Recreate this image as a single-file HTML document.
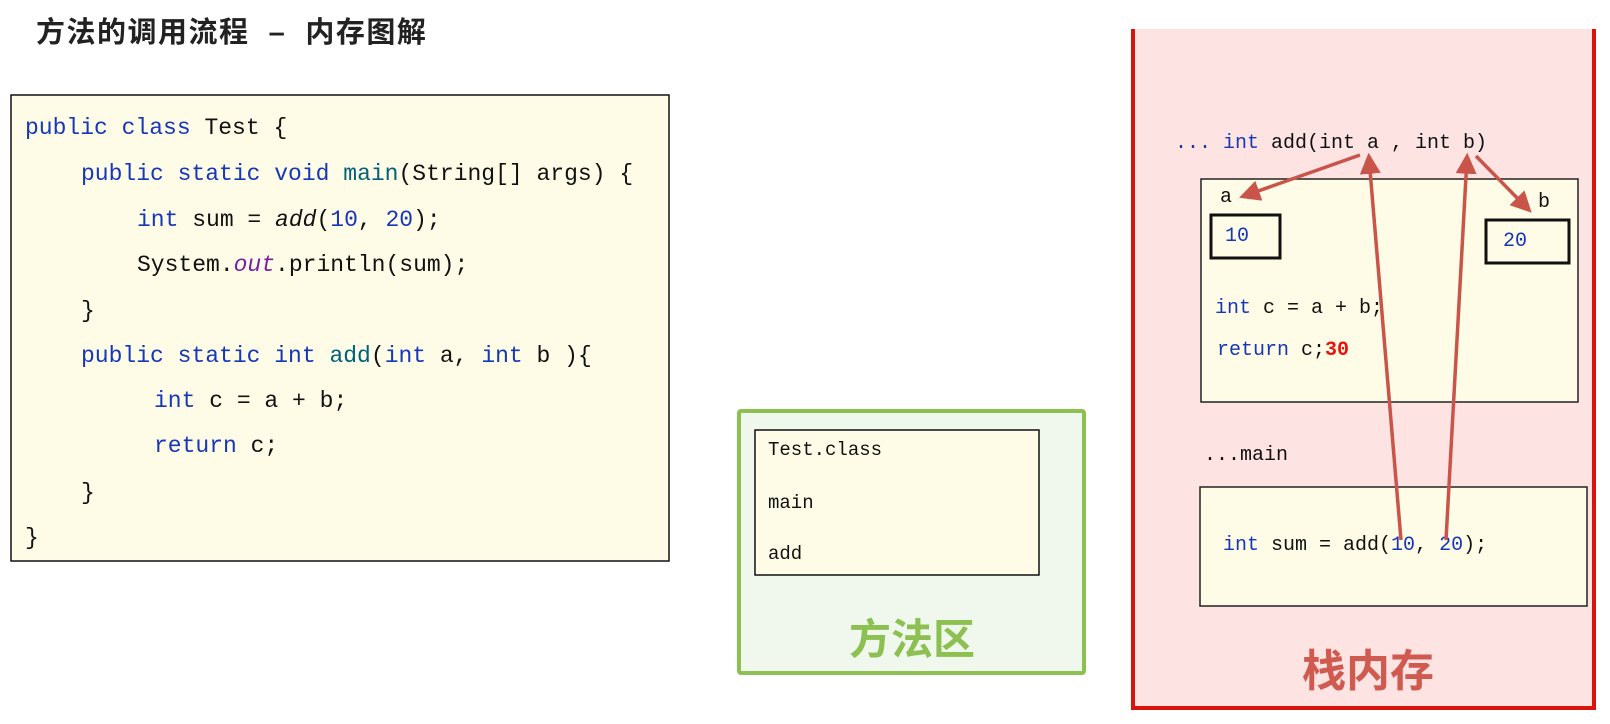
<!DOCTYPE html>
<html><head><meta charset="utf-8"><style>
html,body{margin:0;padding:0;background:#fff;}
svg{display:block;}
.m{font-family:"Liberation Mono",monospace;}
.k{fill:#1637b8;}
.t{fill:#00627a;}
</style></head><body>
<svg width="1610" height="724" viewBox="0 0 1610 724" xmlns="http://www.w3.org/2000/svg">
<text x="36" y="42" font-family="'Liberation Sans','Noto Sans CJK SC',sans-serif" font-weight="bold" font-size="29" letter-spacing="1.5" fill="#222" xml:space="preserve">方法的调用流程  –  内存图解</text>

<rect x="11" y="95" width="658" height="466" fill="#fefce6" stroke="#111" stroke-width="1.5"/>
<g class="m" font-size="23" fill="#111">
<text x="25" y="134"><tspan class="k">public class</tspan> Test {</text>
<text x="81" y="180"><tspan class="k">public static void</tspan> <tspan class="t">main</tspan>(String[] args) {</text>
<text x="137" y="226"><tspan class="k">int</tspan> sum = <tspan font-style="italic">add</tspan>(<tspan class="k">10</tspan>, <tspan class="k">20</tspan>);</text>
<text x="137" y="271">System.<tspan font-style="italic" fill="#7a1fa2">out</tspan>.println(sum);</text>
<text x="81" y="317">}</text>
<text x="81" y="362"><tspan class="k">public static int</tspan> <tspan class="t">add</tspan>(<tspan class="k">int</tspan> a, <tspan class="k">int</tspan> b ){</text>
<text x="154" y="407"><tspan class="k">int</tspan> c = a + b;</text>
<text x="154" y="452"><tspan class="k">return</tspan> c;</text>
<text x="81" y="499">}</text>
<text x="25" y="544">}</text>
</g>

<rect x="739" y="411" width="345" height="262" fill="#f0f7ec" stroke="#8cc152" stroke-width="4" rx="2"/>
<rect x="755" y="430" width="284" height="145" fill="#fefce6" stroke="#111" stroke-width="1.5"/>
<g class="m" font-size="19" fill="#111">
<text x="768" y="455">Test.class</text>
<text x="768" y="508">main</text>
<text x="768" y="559">add</text>
</g>
<text x="912" y="654" text-anchor="middle" font-family="'Liberation Sans','Noto Sans CJK SC',sans-serif" font-weight="bold" font-size="42" fill="#8cc152">方法区</text>

<rect x="1133" y="29" width="461" height="679" fill="#fde4e2"/>
<path d="M1133 29 V708 H1594 V29" fill="none" stroke="#d9140c" stroke-width="4"/>
<rect x="1201" y="179" width="377" height="223" fill="#fefce6" stroke="#222" stroke-width="1.5"/>
<rect x="1200" y="487" width="387" height="119" fill="#fefce6" stroke="#222" stroke-width="1.5"/>
<rect x="1211" y="215" width="69" height="43" fill="none" stroke="#111" stroke-width="3"/>
<rect x="1486" y="220" width="83" height="43" fill="none" stroke="#111" stroke-width="3"/>
<g class="m" font-size="20" fill="#111">
<text x="1175" y="148"><tspan class="k">... int</tspan> add(int a , int b)</text>
<text x="1220" y="202">a</text>
<text x="1538" y="207">b</text>
<text x="1225" y="241" class="k">10</text>
<text x="1503" y="246" class="k">20</text>
<text x="1215" y="313"><tspan class="k">int</tspan> c = a + b;</text>
<text x="1217" y="355"><tspan class="k">return</tspan> c;<tspan fill="#e8120c" font-weight="bold">30</tspan></text>
<text x="1204" y="460">...main</text>
<text x="1223" y="550"><tspan class="k">int</tspan> sum = add(<tspan class="k">10</tspan>, <tspan class="k">20</tspan>);</text>
</g>
<text x="1368" y="686" text-anchor="middle" font-family="'Liberation Sans','Noto Sans CJK SC',sans-serif" font-weight="bold" font-size="44" fill="#d05a50">栈内存</text>

<defs><marker id="ah" markerWidth="6" markerHeight="6" refX="4.5" refY="3" orient="auto" markerUnits="strokeWidth">
<path d="M0,0 L6,3 L0,6 z" fill="#c9544a"/></marker></defs>
<g stroke="#c9544a" stroke-width="3.5" fill="none">
<line x1="1360" y1="155" x2="1244" y2="196" marker-end="url(#ah)"/>
<line x1="1476" y1="156" x2="1528" y2="209" marker-end="url(#ah)"/>
<line x1="1401" y1="540" x2="1369" y2="158" marker-end="url(#ah)"/>
<line x1="1446" y1="540" x2="1467" y2="158" marker-end="url(#ah)"/>
</g>
</svg>
</body></html>
